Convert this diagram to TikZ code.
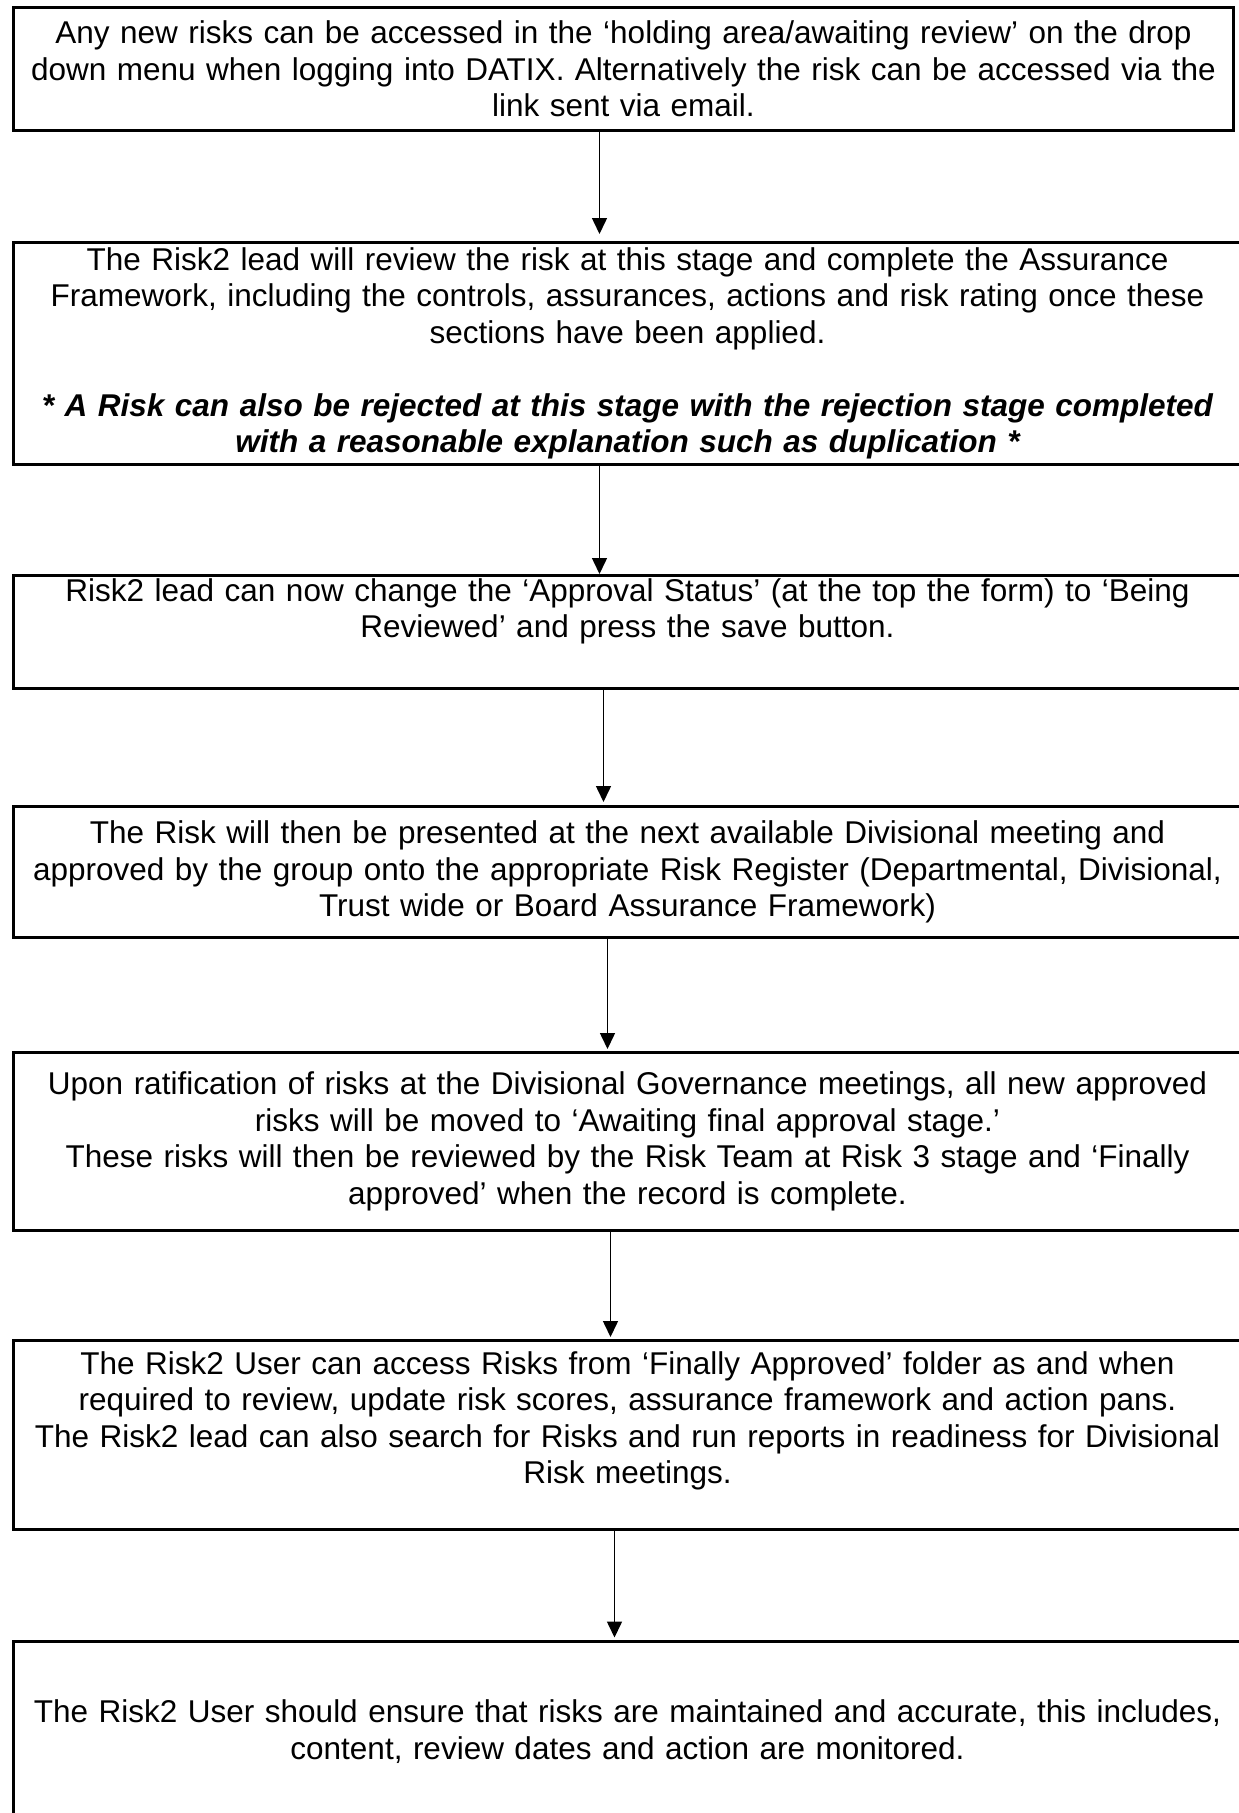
\documentclass[tikz,border=0pt]{standalone}
\usepackage{fontspec}
\setmainfont{Liberation Sans}
\usetikzlibrary{arrows.meta}
\begin{document}
\begin{tikzpicture}[x=1pt,y=-1pt,
  stepbox/.style={draw, line width=3pt, anchor=north west, inner sep=0pt,
    align=center, text width=1200pt, minimum width=1228pt,
    font=\fontsize{31.5}{36.5}\selectfont},
  flow/.style={line width=1.5pt, -{Triangle[width=15pt,length=16pt]}}]
\useasboundingbox (0,0) rectangle (1239,1813);
\clip (0,0) rectangle (1239,1813);

% process steps, top to bottom
\node[stepbox, minimum width=1220pt, minimum height=123pt] (b1) at (12,6)
  {Any new risks can be accessed in the ‘holding area/awaiting review’ on the drop\\
   down menu when logging into DATIX. Alternatively the risk can be accessed via the\\
   link sent via email.};

\node[stepbox, minimum height=222pt] (b2) at (12,241)
  {The Risk2 lead will review the risk at this stage and complete the Assurance\\
   Framework, including the controls, assurances, actions and risk rating once these\\
   sections have been applied.\\
   \strut\\
   {\bfseries\itshape * A Risk can also be rejected at this stage with the rejection stage completed}\\
   {\bfseries\itshape with a reasonable explanation such as duplication *}};

\node[stepbox, minimum height=113pt] (b3) at (12,574)
  {Risk2 lead can now change the ‘Approval Status’ (at the top the form) to ‘Being\\
   Reviewed’ and press the save button.\\
   \strut};

\node[stepbox, minimum height=131pt] (b4) at (12,805)
  {The Risk will then be presented at the next available Divisional meeting and\\
   approved by the group onto the appropriate Risk Register (Departmental, Divisional,\\
   Trust wide or Board Assurance Framework)};

\node[stepbox, minimum height=178pt] (b5) at (12,1051)
  {Upon ratification of risks at the Divisional Governance meetings, all new approved\\
   risks will be moved to ‘Awaiting final approval stage.’\\
   These risks will then be reviewed by the Risk Team at Risk 3 stage and ‘Finally\\
   approved’ when the record is complete.};

\node[stepbox, minimum height=189pt] (b6) at (12,1339)
  {The Risk2 User can access Risks from ‘Finally Approved’ folder as and when\\
   required to review, update risk scores, assurance framework and action pans.\\
   The Risk2 lead can also search for Risks and run reports in readiness for Divisional\\
   Risk meetings.\\[-13pt]
   \strut};

\node[stepbox, minimum height=180pt] (b7) at (12,1640)
  {The Risk2 User should ensure that risks are maintained and accurate, this includes,\\
   content, review dates and action are monitored.};

% connectors
\draw[flow, shorten >=7pt] ([xshift=-24pt]b1.south) -- ([xshift=-28pt]b2.north);
\draw[flow] ([xshift=-28pt]b2.south) -- ([xshift=-28pt]b3.north);
\draw[flow, shorten >=3pt] ([xshift=-24pt]b3.south) -- ([xshift=-24pt]b4.north);
\draw[flow, shorten >=2pt] ([xshift=-20pt]b4.south) -- ([xshift=-20pt]b5.north);
\draw[flow, shorten >=2pt] ([xshift=-17pt]b5.south) -- ([xshift=-17pt]b6.north);
\draw[flow, shorten >=2.5pt] ([xshift=-13pt]b6.south) -- ([xshift=-13pt]b7.north);
\end{tikzpicture}
\end{document}
